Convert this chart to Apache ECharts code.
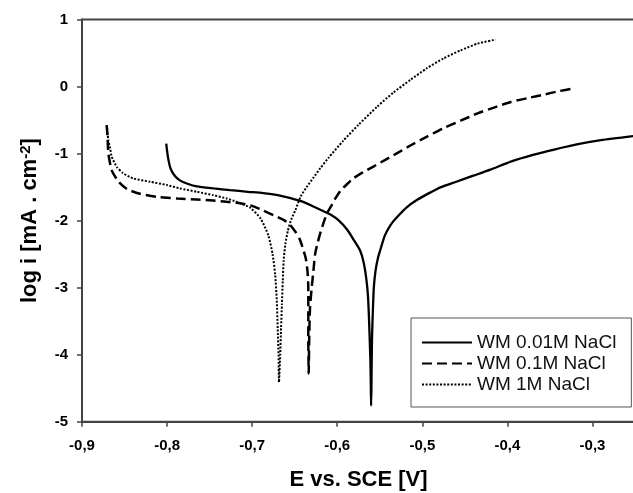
<!DOCTYPE html>
<html>
<head>
<meta charset="utf-8">
<script src="https://cdn.jsdelivr.net/npm/echarts@6/dist/echarts.min.js"></script>
<style>
html,body{margin:0;padding:0;background:#fff;}
#chart{width:633px;height:493px;}
</style>
</head>
<body>
<div id="chart"></div>
<script>
var seriesNames = ['WM 0.01M NaCl', 'WM 0.1M NaCl', 'WM 1M NaCl'];
var xTicks = [-0.9, -0.8, -0.7, -0.6, -0.5, -0.4, -0.3];
var yTicks = [-5, -4, -3, -2, -1, 0, 1];

var wm001 = [[-0.801,-0.85],[-0.799,-1.05],[-0.796,-1.22],[-0.791,-1.33],[-0.785,-1.40],[-0.776,-1.45],[-0.765,-1.49],[-0.745,-1.52],[-0.726,-1.545],[-0.705,-1.57],[-0.687,-1.59],[-0.670,-1.62],[-0.655,-1.665],[-0.640,-1.72],[-0.628,-1.79],[-0.618,-1.85],[-0.608,-1.91],[-0.598,-2.00],[-0.588,-2.14],[-0.580,-2.30],[-0.573,-2.45],[-0.569,-2.62],[-0.566,-2.85],[-0.564,-3.10],[-0.563,-3.35],[-0.562,-3.70],[-0.561,-4.10],[-0.5605,-4.50],[-0.5602,-4.76],[-0.5598,-4.50],[-0.5595,-4.10],[-0.559,-3.70],[-0.558,-3.30],[-0.557,-3.00],[-0.555,-2.75],[-0.552,-2.55],[-0.548,-2.38],[-0.544,-2.22],[-0.537,-2.06],[-0.529,-1.94],[-0.518,-1.80],[-0.506,-1.69],[-0.492,-1.59],[-0.478,-1.50],[-0.460,-1.42],[-0.440,-1.33],[-0.420,-1.24],[-0.396,-1.12],[-0.370,-1.02],[-0.345,-0.94],[-0.317,-0.86],[-0.290,-0.80],[-0.252,-0.74]];

var wm01 = [[-0.871,-0.575],[-0.870,-0.75],[-0.869,-1.00],[-0.865,-1.25],[-0.857,-1.42],[-0.847,-1.53],[-0.832,-1.60],[-0.812,-1.645],[-0.788,-1.67],[-0.765,-1.685],[-0.746,-1.70],[-0.730,-1.72],[-0.714,-1.74],[-0.700,-1.78],[-0.687,-1.85],[-0.675,-1.92],[-0.663,-1.99],[-0.655,-2.07],[-0.649,-2.17],[-0.644,-2.28],[-0.641,-2.39],[-0.637,-2.56],[-0.635,-2.75],[-0.634,-3.00],[-0.634,-3.40],[-0.634,-3.80],[-0.6335,-4.28],[-0.633,-3.80],[-0.632,-3.30],[-0.630,-3.00],[-0.628,-2.75],[-0.626,-2.50],[-0.623,-2.33],[-0.620,-2.19],[-0.616,-2.03],[-0.612,-1.89],[-0.607,-1.78],[-0.602,-1.665],[-0.596,-1.55],[-0.588,-1.45],[-0.581,-1.37],[-0.570,-1.28],[-0.557,-1.19],[-0.543,-1.09],[-0.529,-0.99],[-0.514,-0.88],[-0.495,-0.75],[-0.475,-0.62],[-0.455,-0.51],[-0.435,-0.40],[-0.415,-0.31],[-0.396,-0.23],[-0.375,-0.17],[-0.357,-0.12],[-0.340,-0.07],[-0.323,-0.03]];

var wm1 = [[-0.871,-0.575],[-0.869,-0.80],[-0.867,-0.92],[-0.865,-1.05],[-0.859,-1.20],[-0.852,-1.29],[-0.840,-1.37],[-0.820,-1.42],[-0.800,-1.47],[-0.785,-1.52],[-0.765,-1.57],[-0.746,-1.62],[-0.730,-1.67],[-0.718,-1.72],[-0.702,-1.81],[-0.690,-1.97],[-0.681,-2.22],[-0.676,-2.50],[-0.673,-2.80],[-0.671,-3.20],[-0.670,-3.60],[-0.669,-4.00],[-0.6685,-4.41],[-0.667,-4.00],[-0.666,-3.60],[-0.665,-3.25],[-0.664,-2.90],[-0.663,-2.60],[-0.661,-2.35],[-0.658,-2.15],[-0.654,-1.98],[-0.649,-1.84],[-0.643,-1.64],[-0.636,-1.50],[-0.628,-1.36],[-0.620,-1.22],[-0.610,-1.06],[-0.593,-0.81],[-0.575,-0.57],[-0.553,-0.30],[-0.534,-0.09],[-0.514,0.10],[-0.495,0.27],[-0.475,0.42],[-0.455,0.54],[-0.435,0.64],[-0.414,0.70]];

var FONT = '"Liberation Sans", Arial, sans-serif';
var AXC = '#444';

var chart = echarts.init(document.getElementById('chart'), null, {renderer: 'canvas'});
chart.setOption({
  animation: false,
  backgroundColor: '#fff',
  grid: {left: 82, top: 19.5, right: -2, bottom: 71.3, containLabel: false, outerBoundsMode: 'none',
    show: true, borderColor: AXC, borderWidth: 2, backgroundColor: 'transparent'},
  legend: {
    orient: 'vertical', left: 411, top: 318,
    padding: [14, 15, 12, 10],
    borderColor: '#555', borderWidth: 1, backgroundColor: '#fff',
    itemWidth: 50, itemHeight: 14, itemGap: 0,
    itemStyle: {color: 'transparent', borderColor: 'transparent', borderWidth: 0, opacity: 0},
    textStyle: {fontFamily: FONT, fontSize: 19, color: '#111', lineHeight: 21},
    data: seriesNames
  },
  xAxis: {
    type: 'value', min: xTicks[0], max: -0.25, interval: 0.1,
    splitLine: {show: false},
    axisLine: {onZero: false, lineStyle: {color: AXC, width: 2}},
    axisTick: {show: true, length: 5, lineStyle: {color: AXC, width: 1.5}},
    axisLabel: {margin: 17, fontFamily: FONT, fontSize: 15, fontWeight: 'bold', color: '#000',
      showMaxLabel: false,
      formatter: function (v) { return v.toFixed(1).replace('.', ','); }},
    name: 'E vs. SCE [V]', nameLocation: 'middle', nameGap: 47,
    nameTextStyle: {fontFamily: FONT, fontSize: 22, fontWeight: 'bold', color: '#000'}
  },
  yAxis: {
    type: 'value', min: yTicks[0], max: yTicks[yTicks.length - 1], interval: 1,
    splitLine: {show: false},
    axisLine: {onZero: false, lineStyle: {color: AXC, width: 2}},
    axisTick: {show: true, length: 5, lineStyle: {color: AXC, width: 1.5}},
    axisLabel: {margin: 14, fontFamily: FONT, fontSize: 15, fontWeight: 'bold', color: '#000',
      formatter: function (v) { return String(Math.round(v)); }},
    name: 'log i [mA . cm{sup|-2}]', nameLocation: 'middle', nameGap: 40, nameRotate: 90,
    nameTextStyle: {fontFamily: FONT, fontSize: 22, fontWeight: 'bold', color: '#000',
      rich: {sup: {fontFamily: FONT, fontSize: 15, fontWeight: 'bold', color: '#000', verticalAlign: 'top', padding: [0, 0, 9, 0]}}}
  },
  series: [
    {name: seriesNames[0], type: 'line', data: wm001, showSymbol: false, symbol: 'none', smooth: 0.2,
     lineStyle: {color: '#000', width: 2.3, type: 'solid'}, itemStyle: {color: '#000'}},
    {name: seriesNames[1], type: 'line', data: wm01, showSymbol: false, symbol: 'none', smooth: 0.2,
     lineStyle: {color: '#000', width: 2.5, type: [10, 5]}, itemStyle: {color: '#000'}},
    {name: seriesNames[2], type: 'line', data: wm1, showSymbol: false, symbol: 'none', smooth: 0.2,
     lineStyle: {color: '#000', width: 2, type: [2, 1.6]}, itemStyle: {color: '#000'}}
  ]
});
</script>
</body>
</html>
